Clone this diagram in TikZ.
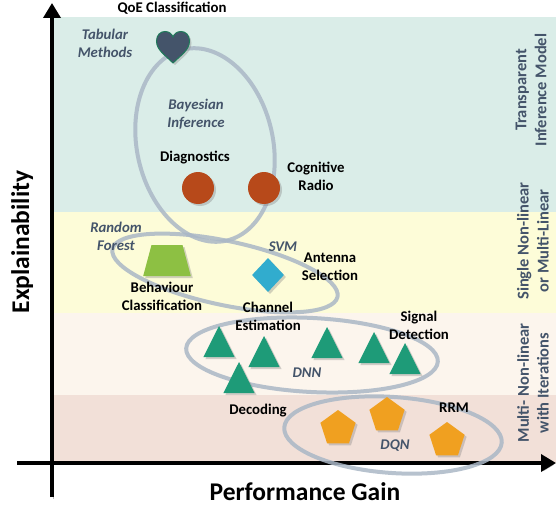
\documentclass[tikz,border=0pt]{standalone}
\usepackage{fontspec}
\setmainfont{Carlito}
\usetikzlibrary{shapes.geometric,arrows.meta,shadows}

\definecolor{bandteal}{RGB}{218,237,232}
\definecolor{bandyellow}{RGB}{253,252,216}
\definecolor{bandpeach}{RGB}{252,245,237}
\definecolor{bandpink}{RGB}{242,224,216}
\definecolor{slate}{RGB}{68,84,106}
\definecolor{ringgray}{RGB}{170,183,198}
\definecolor{rust}{RGB}{183,73,26}
\definecolor{leaf}{RGB}{141,192,67}
\definecolor{sky}{RGB}{49,172,206}
\definecolor{jade}{RGB}{30,155,120}
\definecolor{amber}{RGB}{240,160,32}
\definecolor{heartline}{RGB}{31,122,90}

\tikzset{
  lbl/.style={font=\fontsize{14.8}{18}\selectfont\bfseries, align=center},
  algo/.style={font=\fontsize{14.8}{18}\selectfont\bfseries\itshape, text=slate, align=center},
  tier/.style={font=\fontsize{16.5}{20}\selectfont\bfseries, text=slate, align=center, rotate=90},
  axislbl/.style={font=\fontsize{25.5}{30}\selectfont\bfseries, anchor=base},
  axisline/.style={line width=3.5pt, -{Triangle[width=17pt,length=15pt]},
    preaction={draw=black!25, transform canvas={shift={(1.5pt,-1.5pt)}}}},
  ring/.style={draw=ringgray, line width=4pt, opacity=0.85},
  shade/.style={drop shadow={opacity=0.35, shadow xshift=2pt, shadow yshift=-2pt}},
  dot/.style={circle, fill=rust, minimum size=32pt, inner sep=0pt, shade},
  tri/.style={regular polygon, regular polygon sides=3, minimum size=36pt, yscale=1.15,
    inner sep=0pt, outer sep=0pt, anchor=north, fill=jade, shade},
  penta/.style={regular polygon, regular polygon sides=5, minimum size=37pt,
    inner sep=0pt, outer sep=0pt, anchor=north, fill=amber, shade},
}

\begin{document}
\begin{tikzpicture}[x=1pt, y=-1pt]
    \useasboundingbox (0,0) rectangle (556,505);

    % bands
    \fill[bandteal] (53,17) rectangle (556,212);
    \fill[bandyellow] (53,212) rectangle (556,313);
    \fill[bandpeach] (53,313) rectangle (556,395);
    \fill[bandpink] (53,395) rectangle (556,463);

    % axes
    \coordinate (ybot) at (52,497);
    \coordinate (ytop) at (52,3);
    \coordinate (xleft) at (17,463);
    \coordinate (xright) at (556,463);
    \draw[axisline] (ybot) -- (ytop);
    \draw[axisline] (xleft) -- (xright);

    % groups
    \draw[ring, rotate around={12.6:(205,145)}] (205,145) ellipse [x radius=68, y radius=98];
    \draw[ring, rotate around={-12:(225,273)}] (225,273) ellipse [x radius=115, y radius=32];
    \draw[ring, rotate around={-3:(312,355)}] (312,355) ellipse [x radius=126, y radius=37];
    \draw[ring, rotate around={-4:(393,435)}] (393,435) ellipse [x radius=109, y radius=38];

    % shapes
    \coordinate (qoeheart) at (173,47);
    \draw[fill=slate, draw=heartline, line width=1pt, shade, shift={(qoeheart)}]
        (0,16) .. controls (-8,8) and (-16.5,3) .. (-16.5,-6)
        .. controls (-16.5,-12) and (-12.5,-15.5) .. (-8,-15.5)
        .. controls (-4,-15.5) and (-1,-13) .. (0,-10)
        .. controls (1,-13) and (4,-15.5) .. (8,-15.5)
        .. controls (12.5,-15.5) and (16.5,-12) .. (16.5,-6)
        .. controls (16.5,3) and (8,8) .. (0,16) -- cycle;
    \node[dot] (diagdot) at (198,188) {};
    \node[dot] (radiodot) at (264,188) {};
    \node[trapezium, trapezium left angle=75, trapezium right angle=75,
        minimum width=36pt, minimum height=31pt, inner sep=1pt, fill=leaf, shade] (behavtrap) at (167,260.5) {};
    \node[diamond, minimum width=32pt, minimum height=34pt, inner sep=1pt, fill=sky, shade] (antdiam) at (268,275) {};
    \node[tri] (tri1) at (219,326) {};
    \node[tri] (tri2) at (264,336) {};
    \node[tri] (tri3) at (327,327) {};
    \node[tri] (tri4) at (374,332) {};
    \node[tri] (tri5) at (405,343) {};
    \node[tri] (tri6) at (239,362) {};
    \node[penta] (pent1) at (338,410) {};
    \node[penta] (pent2) at (387,397) {};
    \node[penta] (pent3) at (447,422) {};

    % labels
    \node[lbl] (qoe) at (172,8) {QoE Classification};
    \node[algo] (tabular) at (105,43) {Tabular\\Methods};
    \node[algo] (bayes) at (196,114) {Bayesian\\Inference};
    \node[lbl] (diag) at (195,158) {Diagnostics};
    \node[lbl] (radio) at (316,176) {Cognitive\\Radio};
    \node[algo] (forest) at (116,236) {Random\\Forest};
    \node[lbl] (behav) at (162,296) {Behaviour\\Classification};
    \node[algo] (svm) at (283,247) {SVM};
    \node[lbl] (antenna) at (330,267) {Antenna\\Selection};
    \node[lbl] (channel) at (268,316) {Channel\\Estimation};
    \node[lbl] (signal) at (419,325) {Signal\\Detection};
    \node[algo] (dnn) at (307,373) {DNN};
    \node[lbl] (decode) at (258,411) {Decoding};
    \node[lbl] (rrm) at (454,408) {RRM};
    \node[algo] (dqn) at (395,446) {DQN};

    \node[tier] (transparent) at (531,90) {Transparent\\Inference Model};
    \node[tier] (single) at (533,241) {Single Non-linear\\or Multi-Linear};
    \node[tier] (multi) at (533,383) {Multi- Non-linear\\with Iterations};

    \node[axislbl] (perf) at (305,500) {Performance Gain};
    \node[axislbl, rotate=90] (expl) at (29,242) {Explainability};
\end{tikzpicture}
\end{document}
